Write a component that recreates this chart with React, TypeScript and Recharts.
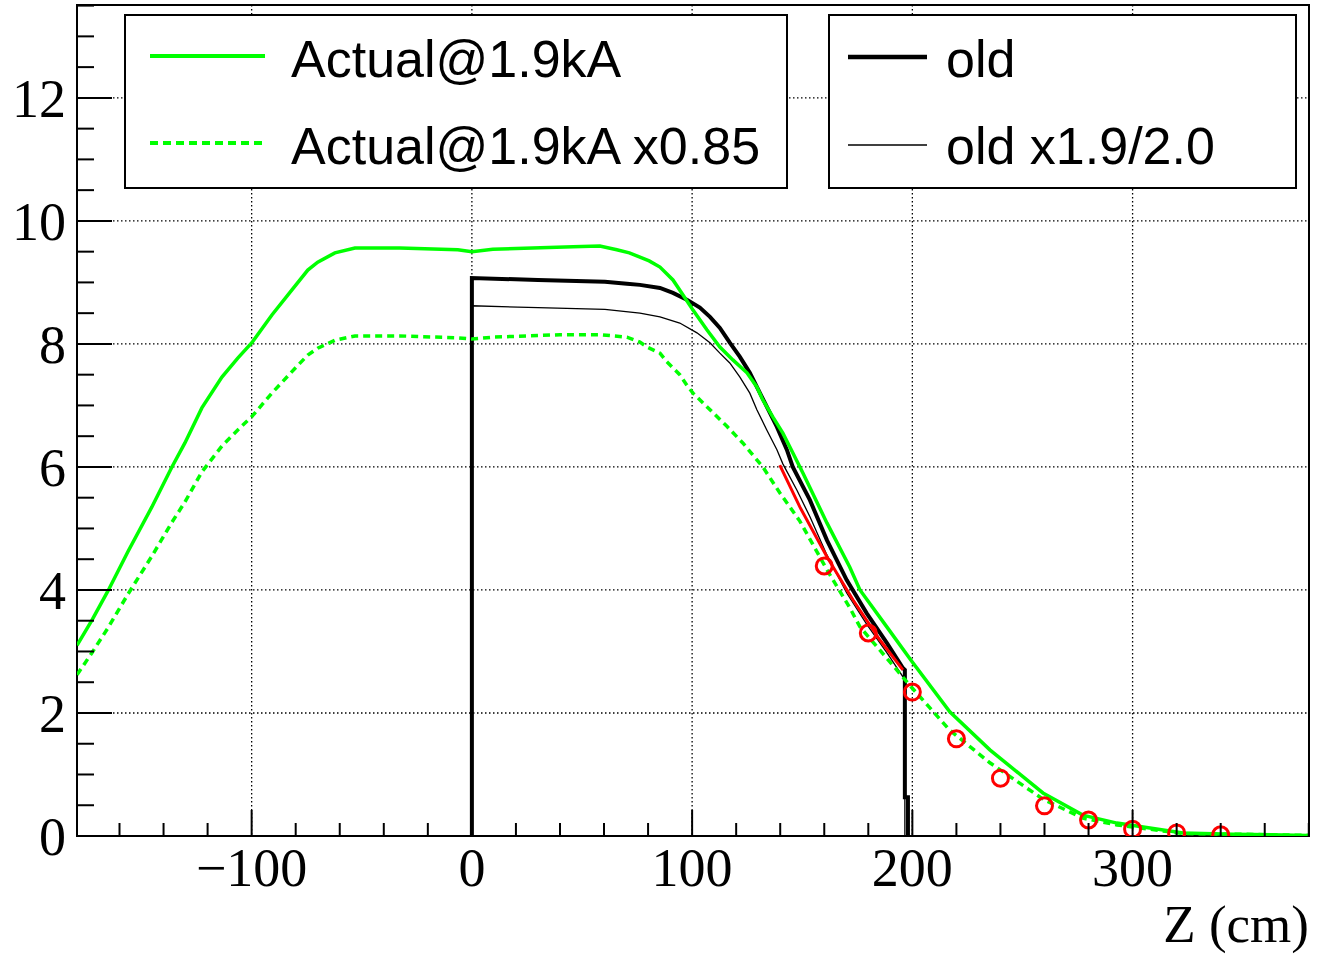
import React from 'react';
import { ComposedChart, Line, Scatter, XAxis, YAxis, CartesianGrid, ReferenceArea } from 'recharts';

const X_DOMAIN: [number, number] = [-179.3, 380.1];
const Y_DOMAIN: [number, number] = [0, 13.51];

const X_TICKS = [-160, -140, -120, -100, -80, -60, -40, -20, 0, 20, 40, 60, 80, 100, 120, 140, 160, 180, 200, 220, 240, 260, 280, 300, 320, 340, 360, 380];
const X_MAJOR = [-100, 0, 100, 200, 300];
const Y_TICKS = [0, 0.5, 1, 1.5, 2, 2.5, 3, 3.5, 4, 4.5, 5, 5.5, 6, 6.5, 7, 7.5, 8, 8.5, 9, 9.5, 10, 10.5, 11, 11.5, 12, 12.5, 13, 13.5];
const Y_MAJOR = [0, 2, 4, 6, 8, 10, 12];
const X_GRID = [-100, 0, 100, 200, 300];
const Y_GRID = [2, 4, 6, 8, 10, 12];

// Actual@1.9kA
const actualZ = [-179.3, -172.5, -165.3, -156.2, -145.3, -136.2, -130.3, -122.6, -113.5, -106.3, -99.9, -90.8, -81.7, -74.5, -70, -62.2, -53.1, -32.7, -6.4, 0, 9.5, 45.9, 58.1, 65.8, 71.5, 76.3, 80.5, 85.4, 91.3, 95.8, 100.4, 106.7, 112.6, 118.5, 124.9, 129.4, 132.1, 136.7, 141.2, 145.7, 150.3, 161.2, 171.6, 176.2, 188.4, 199.3, 217, 235.2, 259.3, 277.4, 292.9, 322.9, 345.6, 380];
const actualB = [3.10, 3.51, 3.98, 4.62, 5.35, 6.00, 6.39, 6.96, 7.46, 7.77, 8.02, 8.47, 8.88, 9.20, 9.33, 9.48, 9.56, 9.56, 9.53, 9.50, 9.54, 9.58, 9.59, 9.53, 9.48, 9.41, 9.35, 9.25, 9.04, 8.80, 8.55, 8.23, 7.95, 7.74, 7.53, 7.30, 7.09, 6.81, 6.55, 6.23, 5.90, 5.09, 4.37, 4.00, 3.40, 2.86, 2.02, 1.40, 0.70, 0.34, 0.21, 0.05, 0.03, 0.01];

// Actual@1.9kA x0.85
const actualScaledZ = [-179.3, -172.5, -165.3, -156.2, -145.3, -136.2, -130.3, -122.6, -113.5, -106.3, -99.9, -90.8, -81.7, -74.5, -70, -62.2, -53.1, -32.7, -6.4, 0, 9.5, 40, 58.1, 70.4, 76.3, 79.5, 85.4, 88.5, 94.4, 97.6, 100.4, 106.7, 115.8, 123, 132.1, 139.8, 148.9, 161.2, 171.6, 176.2, 188.4, 199.3, 217, 235.2, 259.3, 277.4, 292.9, 322.9, 345.6, 380];
const actualScaledB = [2.62, 2.98, 3.38, 3.93, 4.55, 5.10, 5.43, 5.92, 6.34, 6.60, 6.82, 7.20, 7.55, 7.82, 7.93, 8.06, 8.13, 8.13, 8.10, 8.08, 8.11, 8.15, 8.15, 8.11, 8.03, 7.95, 7.85, 7.71, 7.50, 7.33, 7.20, 6.98, 6.66, 6.39, 6.00, 5.58, 5.12, 4.33, 3.71, 3.40, 2.89, 2.43, 1.72, 1.19, 0.60, 0.29, 0.18, 0.04, 0.03, 0.01];

// old
const oldZ = [0, 0, 30, 60.4, 70.4, 76.3, 85.4, 91.3, 97.6, 103.5, 108.1, 112.6, 117.1, 121.7, 126.2, 129.4, 133.9, 138.5, 143, 145.7, 153.5, 161.2, 170.2, 179.3, 188.4, 195.7, 196.6, 196.6, 198, 198];
const oldB = [0, 9.07, 9.04, 9.01, 8.98, 8.96, 8.91, 8.83, 8.72, 8.59, 8.44, 8.26, 8.02, 7.79, 7.53, 7.30, 6.98, 6.65, 6.28, 6.00, 5.46, 4.81, 4.16, 3.62, 3.14, 2.73, 2.70, 0.63, 0.63, 0];

// old x1.9/2.0
const oldScaledZ = [0, 0, 30, 60.4, 76.3, 85.4, 94.4, 102.2, 108.1, 112.6, 117.1, 121.7, 126.2, 129.4, 133.9, 138.5, 141.2, 147.6, 153.5, 161.2, 170.2, 179.3, 188.4, 195.7, 196.6, 196.6];
const oldScaledB = [0, 8.62, 8.59, 8.56, 8.50, 8.44, 8.34, 8.18, 8.02, 7.85, 7.69, 7.46, 7.20, 6.93, 6.60, 6.28, 6.05, 5.62, 5.19, 4.57, 3.95, 3.44, 2.98, 2.59, 2.57, 0];

// fit (red line)
const fitZ = [139.8, 148.9, 161.2, 173, 185.2, 195.7];
const fitB = [6.03, 5.35, 4.54, 3.84, 3.19, 2.70];

// measurements (red circles)
const measZ = [160, 180, 200, 220, 240, 260, 280, 300, 320, 340];
const measB = [4.39, 3.30, 2.34, 1.58, 0.94, 0.49, 0.26, 0.11, 0.05, 0.02];

const zip = (xs: number[], ys: number[]) => xs.map((x, i) => ({ x, y: ys[i] }));

const actualData = zip(actualZ, actualB);
const actualScaledData = zip(actualScaledZ, actualScaledB);
const oldData = zip(oldZ, oldB);
const oldScaledData = zip(oldScaledZ, oldScaledB);
const fitData = zip(fitZ, fitB);
const measData = zip(measZ, measB);

const SERIF = "'Liberation Serif', 'Times New Roman', serif";
const SANS = "'Liberation Sans', Arial, Helvetica, sans-serif";
const GREEN = '#00ff00';
const RED = '#ff0000';

const fmt = (v: number) => (v < 0 ? '\u2212' + Math.abs(v) : String(v));

const XTick = (props: any) => {
  const { x, y, payload } = props;
  const v = payload.value;
  const major = X_MAJOR.includes(v);
  return (
    <g>
      <line x1={x} x2={x} y1={y} y2={y - (major ? 26 : 13)} stroke="#000" strokeWidth={2} />
      {major && (
        <text x={x} y={y + 50} textAnchor="middle" fontFamily={SERIF} fontSize={54} fill="#000">
          {fmt(v)}
        </text>
      )}
    </g>
  );
};

const YTick = (props: any) => {
  const { x, y, payload } = props;
  const v = payload.value;
  const major = Y_MAJOR.includes(v);
  return (
    <g>
      <line x1={x} x2={x + (major ? 35 : 17)} y1={y} y2={y} stroke="#000" strokeWidth={2} />
      {major && (
        <text x={x - 11} y={y + 19} textAnchor="end" fontFamily={SERIF} fontSize={54} fill="#000">
          {fmt(v)}
        </text>
      )}
    </g>
  );
};

const OpenCircle = (props: any) => {
  const { cx, cy } = props;
  return <circle cx={cx} cy={cy} r={8} fill="none" stroke={RED} strokeWidth={3} />;
};

export default function App() {
  return (
    <div style={{ position: 'absolute', left: 0, top: 0, width: 1333, height: 955, background: '#fff' }}>
      <ComposedChart width={1333} height={955} margin={{ top: 5, right: 24, bottom: 0, left: 0 }}>
        <CartesianGrid
          stroke="#000"
          strokeWidth={1.3}
          strokeDasharray="1.5 2.5"
          verticalValues={X_GRID}
          horizontalValues={Y_GRID}
        />
        <XAxis
          type="number"
          dataKey="x"
          domain={X_DOMAIN}
          allowDataOverflow
          ticks={X_TICKS}
          interval={0}
          height={119}
          tickSize={0}
          tickMargin={0}
          axisLine={false}
          tickLine={false}
          tick={<XTick />}
        />
        <YAxis
          type="number"
          dataKey="y"
          domain={Y_DOMAIN}
          allowDataOverflow
          ticks={Y_TICKS}
          interval={0}
          width={77}
          tickSize={0}
          tickMargin={0}
          axisLine={false}
          tickLine={false}
          tick={<YTick />}
        />
        <Line data={oldData} dataKey="y" type="linear" stroke="#000" strokeWidth={4} dot={false} isAnimationActive={false} />
        <Line data={oldScaledData} dataKey="y" type="linear" stroke="#000" strokeWidth={1.3} dot={false} isAnimationActive={false} />
        <Line data={actualScaledData} dataKey="y" type="linear" stroke={GREEN} strokeWidth={3.5} strokeDasharray="7 5" dot={false} isAnimationActive={false} />
        <Line data={actualData} dataKey="y" type="linear" stroke={GREEN} strokeWidth={3.5} dot={false} isAnimationActive={false} />
        <Line data={fitData} dataKey="y" type="linear" stroke={RED} strokeWidth={3} dot={false} isAnimationActive={false} />
        <Scatter data={measData} dataKey="y" shape={<OpenCircle />} isAnimationActive={false} />
        <ReferenceArea x1={X_DOMAIN[0]} x2={X_DOMAIN[1]} y1={Y_DOMAIN[0]} y2={Y_DOMAIN[1]} fill="none" fillOpacity={0} stroke="#000" strokeWidth={2} />
      </ComposedChart>
      <svg width={1333} height={955} style={{ position: 'absolute', left: 0, top: 0, pointerEvents: 'none' }}>
        <rect x={125} y={15} width={662} height={173} fill="#fff" stroke="#000" strokeWidth={2} />
        <line x1={150} x2={265} y1={56} y2={56} stroke={GREEN} strokeWidth={4} />
        <text x={291} y={77} fontFamily={SANS} fontSize={52} fill="#000">Actual@1.9kA</text>
        <line x1={150} x2={265} y1={143} y2={143} stroke={GREEN} strokeWidth={4} strokeDasharray="8 5" />
        <text x={291} y={164} fontFamily={SANS} fontSize={52} fill="#000">Actual@1.9kA x0.85</text>

        <rect x={829} y={15} width={467} height={173} fill="#fff" stroke="#000" strokeWidth={2} />
        <line x1={848} x2={927} y1={57} y2={57} stroke="#000" strokeWidth={4.5} />
        <text x={946} y={77} fontFamily={SANS} fontSize={52} fill="#000">old</text>
        <line x1={848} x2={927} y1={145} y2={145} stroke="#000" strokeWidth={1.5} />
        <text x={946} y={164} fontFamily={SANS} fontSize={52} fill="#000">old x1.9/2.0</text>

        <text x={1309} y={942} textAnchor="end" fontFamily={SERIF} fontSize={53} fill="#000">Z (cm)</text>
      </svg>
    </div>
  );
}
